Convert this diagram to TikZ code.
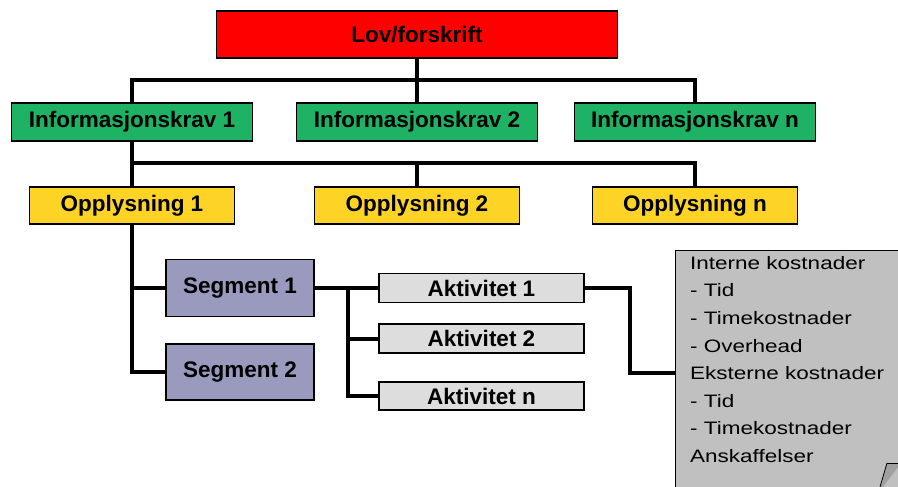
\documentclass[tikz,border=0pt]{standalone}
\usepackage{fontspec}
\setmainfont{Liberation Sans}
\newfontfamily\notefont[FakeStretch=1.25]{Liberation Sans}
\usetikzlibrary{backgrounds}
\definecolor{lovred}{HTML}{FF0000}
\definecolor{infogreen}{HTML}{1DB264}
\definecolor{oppyellow}{HTML}{FDD426}
\definecolor{segpurple}{HTML}{9A9ABF}
\definecolor{aktgray}{HTML}{DDDDDD}
\definecolor{notegray}{HTML}{C0C0C0}
\definecolor{foldgray}{HTML}{A0A0A0}
\tikzset{
  box/.style={draw=black, line width=1.3pt, inner sep=0pt, font=\fontsize{22.5}{26}\selectfont\bfseries},
  lovbox/.style={box, fill=lovred},
  infobox/.style={box, fill=infogreen, minimum width=241, minimum height=38},
  oppbox/.style={box, fill=oppyellow, minimum width=205, minimum height=37},
  segbox/.style={box, fill=segpurple, minimum width=148, minimum height=57},
  aktbox/.style={box, fill=aktgray, minimum width=205, minimum height=29},
  conn/.style={line width=4pt, line cap=rect},
  notebox/.style={draw=black, line width=1.3pt, fill=notegray, inner sep=0pt},
}
\begin{document}
\begin{tikzpicture}[x=1pt, y=-1pt]
\useasboundingbox (0,0) rectangle (898,487);

\coordinate (b1) at (417,80);
\coordinate (b2) at (132,163);
\coordinate (segx) at (132,0);
\coordinate (aktx) at (348,0);
\coordinate (notex) at (630,0);

% nodes
\node[lovbox, minimum width=401, minimum height=47] (lov) at (417,34.5) {Lov/forskrift};
\node[infobox] (inf1) at (132,122) {Informasjonskrav 1};
\node[infobox] (inf2) at (417,122) {Informasjonskrav 2};
\node[infobox] (infn) at (695,122) {Informasjonskrav n};
\node[oppbox] (opp1) at (132,205.5) {Opplysning 1};
\node[oppbox] (opp2) at (417,205.5) {Opplysning 2};
\node[oppbox] (oppn) at (695,205.5) {Opplysning n};
\node[segbox] (seg1) at (240,288) {Segment 1};
\node[segbox, minimum height=56] (seg2) at (240,372) {Segment 2};
\node[aktbox] (akt1) at (481.5,288) {Aktivitet 1};
\node[aktbox] (akt2) at (481.5,338.5) {Aktivitet 2};
\node[aktbox, minimum height=28] (aktn) at (481.5,396) {Aktivitet n};
\node[notebox, minimum width=240, minimum height=244, anchor=north west] (note) at (675,250) {};
\node[anchor=north west, inner sep=0pt, align=left,
      font=\notefont\fontsize{18}{27.6}\selectfont] (notetext) at (690,256)
  {Interne kostnader\\- Tid\\- Timekostnader\\- Overhead\\Eksterne kostnader\\- Tid\\- Timekostnader\\Anskaffelser};
\fill[foldgray] (887,463) -- (898,463) -- (898,467) -- (883,487) -- (880,487) -- cycle;
\draw[line width=0.8pt] (887,463) -- (880,487);
\draw[line width=0.8pt] (887,463) -- (898,463);

% lines
\begin{scope}[on background layer]
\fill[white] (0,0) rectangle (898,487);
\draw[conn] (lov.south) -- (b1);
\draw[conn] (inf1.north) -- (inf1.north |- b1) -- (infn.north |- b1) -- (infn.north);
\draw[conn] (b1) -- (inf2.north);
\draw[conn] (inf1.south) -- (opp1.north);
\draw[conn] (b2) -- (oppn.north |- b2) -- (oppn.north);
\draw[conn] (opp2.north |- b2) -- (opp2.north);
\draw[conn] (opp1.south) -- (segx |- seg2.west) -- (seg2.west);
\draw[conn] (segx |- seg1.west) -- (seg1.west);
\draw[conn] (seg1.east) -- (akt1.west);
\draw[conn] (aktx |- akt1.west) -- (aktx |- aktn.west) -- (aktn.west);
\draw[conn] (aktx |- akt2.west) -- (akt2.west);
\draw[conn] (akt1.east) -- (notex |- akt1.east) -- (notex |- note.west) -- (note.west);
\end{scope}
\end{tikzpicture}
\end{document}
